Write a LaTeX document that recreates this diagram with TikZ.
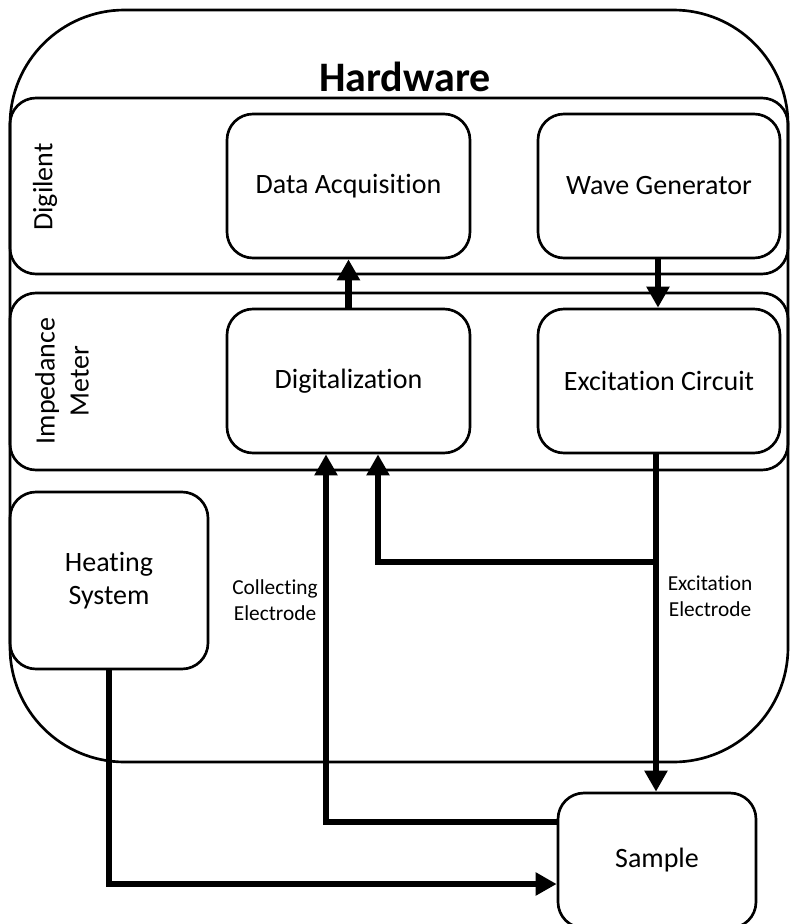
\documentclass[tikz,border=0pt]{standalone}
\usepackage{fontspec}
\setmainfont{Carlito}[Ligatures={NoCommon,NoContextual}]
\usetikzlibrary{arrows.meta}
\begin{document}
\begin{tikzpicture}[x=0.75pt,y=-0.75pt,
  box/.style={draw, line width=2pt, rounded corners=19.5pt, align=center, inner sep=0pt,
    font=\fontsize{21}{25}\selectfont},
  group/.style={draw, line width=2pt, rounded corners=19.5pt, inner sep=0pt},
  arr/.style={line width=4.8pt, -{Triangle[width=16.5pt,length=15.75pt]}},
  lbl/.style={font=\fontsize{21}{25.5}\selectfont, align=center},
  small/.style={font=\fontsize{16}{19.5}\selectfont, align=center}]
\useasboundingbox (0,0) rectangle (790,924);
\clip (0,0) rectangle (790,924);
% Hardware container
\node[draw, line width=2pt, rounded corners=86pt, inner sep=0pt,
  minimum width=583.5pt, minimum height=564pt] (hw) at (399,386) {};
\node[font=\fontsize{31.5}{36}\selectfont\bfseries, anchor=base] (title) at (405,92) {Hardware};
% groups
\node[group, minimum width=583.5pt, minimum height=132pt] (dgl) at (399,186) {};
\node[group, minimum width=583.5pt, minimum height=132.75pt] (imp) at (399,381.5) {};
\node[lbl, rotate=90] (dgltxt) at (45,187) {Digilent};
\node[lbl, rotate=90] (imptxt) at (62,381) {Impedance\\Meter};
% boxes
\node[box, minimum width=182.25pt, minimum height=108pt] (DA) at (348.5,186) {Data Acquisition};
\node[box, minimum width=181.5pt, minimum height=108pt] (WG) at (659,186) {Wave Generator};
\node[box, minimum width=182.25pt, minimum height=108pt] (DG) at (348.5,381) {Digitalization};
\node[box, minimum width=181.5pt, minimum height=108pt] (EC) at (659,381) {Excitation Circuit};
\node[box, minimum width=148.5pt, minimum height=132.75pt] (HS) at (109,580.5) {Heating\\System};
\node[box, minimum width=148.5pt, minimum height=101.25pt] (SA) at (657,860.5) {Sample};
% labels
\node[small] (lc) at (275,600) {Collecting\\Electrode};
\node[small] (le) at (710,596) {Excitation\\Electrode};
% helper coordinates
\coordinate (xe) at (656,0);
\coordinate (xw) at (658,0);
\coordinate (xb) at (378,0);
\coordinate (xc) at (326,0);
\coordinate (j) at (656,562);
\coordinate (yc) at (0,822);
\coordinate (yh) at (0,884);
% connectors
\draw[arr] (DG.north -| DA.south) -- (DA.south);
\draw[arr] (WG.south -| xw) -- (EC.north -| xw);
\draw[arr] (EC.south -| xe) -- (SA.north -| xe);
\draw[arr] (j) -| (xb |- DG.south);
\draw[arr] (SA.west |- yc) -| (xc |- DG.south);
\draw[arr] (HS.south) |- (SA.west |- yh);
\end{tikzpicture}
\end{document}
